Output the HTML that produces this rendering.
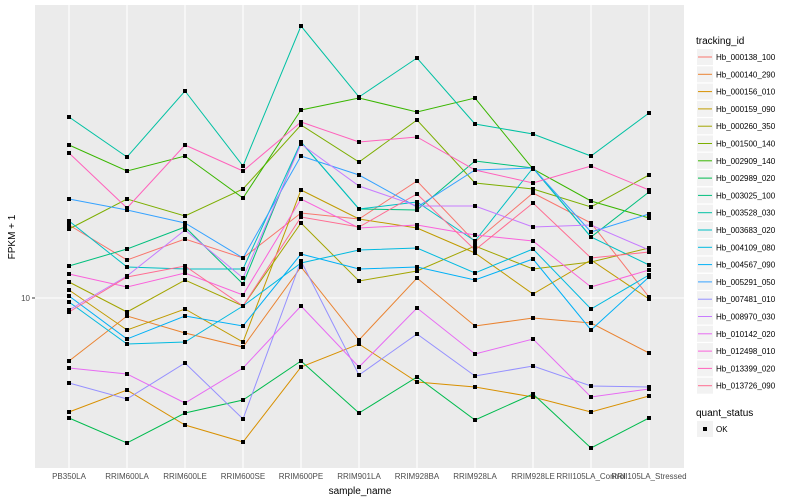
<!DOCTYPE html>
<html><head><style>body{margin:0;background:#fff}svg{display:block;font-family:"Liberation Sans",sans-serif}</style></head><body>
<svg id="s" width="800" height="500" xmlns="http://www.w3.org/2000/svg">
<rect x="0" y="0" width="800" height="500" fill="#fff"/>
<rect x="35" y="5" width="649" height="463" fill="#ebebeb"/>
<g stroke="#fff" stroke-width="1.1">
<line x1="35" x2="684" y1="298" y2="298"/>
<line x1="69" x2="69" y1="5" y2="468"/><line x1="127" x2="127" y1="5" y2="468"/><line x1="185" x2="185" y1="5" y2="468"/><line x1="243" x2="243" y1="5" y2="468"/><line x1="301" x2="301" y1="5" y2="468"/><line x1="359" x2="359" y1="5" y2="468"/><line x1="417" x2="417" y1="5" y2="468"/><line x1="475" x2="475" y1="5" y2="468"/><line x1="533" x2="533" y1="5" y2="468"/><line x1="591" x2="591" y1="5" y2="468"/><line x1="649" x2="649" y1="5" y2="468"/>
</g>
<g id="series" fill="none" stroke-width="1"></g>
<g id="pts" fill="#000"></g>
<line x1="32" x2="35" y1="298" y2="298" stroke="#333"/>
<text x="30" y="301" font-size="8" fill="#4d4d4d" text-anchor="end">10</text>
<g font-size="8" fill="#4d4d4d" text-anchor="middle">
<text x="69" y="479">PB350LA</text><text x="127" y="479">RRIM600LA</text><text x="185" y="479">RRIM600LE</text><text x="243" y="479">RRIM600SE</text><text x="301" y="479">RRIM600PE</text><text x="359" y="479">RRIM901LA</text><text x="417" y="479">RRIM928BA</text><text x="475" y="479">RRIM928LA</text><text x="533" y="479">RRIM928LE</text><text x="591" y="479">RRII105LA_Control</text><text x="649" y="479">RRII105LA_Stressed</text>
</g>
<text x="360" y="494" font-size="10" text-anchor="middle" fill="#000">sample_name</text>
<text transform="translate(15,237) rotate(-90)" font-size="10" text-anchor="middle" fill="#000">FPKM + 1</text>
<text x="696" y="44" font-size="10" fill="#000">tracking_id</text>
<g id="leg" font-size="8" fill="#000"></g>
<text x="696" y="416" font-size="10" fill="#000">quant_status</text>
<rect x="697" y="421" width="16" height="16" fill="#f2f2f2"/>
<rect x="703" y="427" width="4" height="4" fill="#000"/>
<text x="716" y="432" font-size="8" fill="#000">OK</text>
</svg>
<script>
var xs=[69,127,185,243,301,359,417,475,533,591,649];
var S=[
["Hb_000138_100","#F8766D",[225,260,239,258,213,219,181,242,193,223,297]],
["Hb_000140_290","#EA8331",[361,316,333,347,267,340,278,326,318,323,353]],
["Hb_000156_010","#D89000",[412,390,425,442,367,344,382,387,397,412,396]],
["Hb_000159_090","#C09B00",[290,330,309,342,190,219,228,253,294,260,299]],
["Hb_000260_350","#A3A500",[282,312,280,306,223,281,271,246,269,262,248]],
["Hb_001500_140","#7CAE00",[229,199,216,189,125,162,120,183,189,207,175]],
["Hb_002909_140","#39B600",[145,171,156,198,110,98,112,98,169,201,218]],
["Hb_002989_020","#00BB4E",[418,443,413,400,361,413,377,420,394,448,418]],
["Hb_003025_100","#00BF7D",[266,249,227,284,142,209,210,161,168,237,192]],
["Hb_003528_030","#00C1A3",[117,157,91,166,26,97,58,124,134,156,113]],
["Hb_003683_020","#00BFC4",[221,267,269,269,142,209,202,241,168,237,265]],
["Hb_004109_080","#00BAE0",[302,344,342,306,263,250,248,273,249,309,275]],
["Hb_004567_090","#00B0F6",[296,339,316,326,254,269,267,280,259,330,277]],
["Hb_005291_050","#35A2FF",[199,210,223,258,156,175,207,170,168,232,214]],
["Hb_007481_010","#9590FF",[383,399,363,419,261,375,334,376,366,386,387]],
["Hb_008970_030","#C77CFF",[310,276,230,278,144,186,206,206,227,225,250]],
["Hb_010142_020","#E76BF3",[368,374,403,368,306,367,308,354,339,397,389]],
["Hb_012498_010","#FA62DB",[274,287,273,295,199,228,225,235,241,287,270]],
["Hb_013399_020","#FF62BC",[153,208,145,171,122,142,137,170,183,166,190]],
["Hb_013726_090","#FF6C91",[312,277,266,306,217,227,194,250,203,258,252]]];
var ns="http://www.w3.org/2000/svg",g=document.getElementById("series"),p=document.getElementById("pts"),l=document.getElementById("leg");
function el(t,a,par){var e=document.createElementNS(ns,t);for(var k in a)e.setAttribute(k,a[k]);par.appendChild(e);return e;}
S.forEach(function(s,i){
 el("polyline",{points:s[2].map(function(y,j){return xs[j]+","+y}).join(" "),stroke:s[1]},g);
 s[2].forEach(function(y,j){el("rect",{x:xs[j]-2,y:y-2,width:4,height:4},p);});
 var ly=57+i*17.3;
 el("rect",{x:697,y:ly-8,width:16,height:16,fill:"#f2f2f2"},l);
 el("line",{x1:698,x2:712,y1:ly,y2:ly,stroke:s[1],"stroke-width":1},l);
 var t=el("text",{x:716,y:ly+3},l);t.textContent=s[0];
});
</script>
</body></html>
